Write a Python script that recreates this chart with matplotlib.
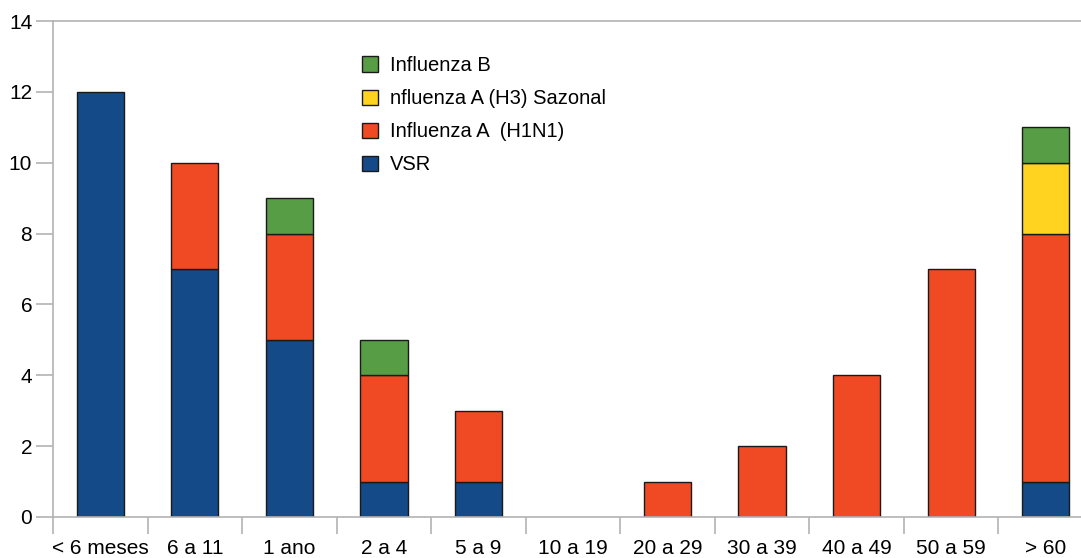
import matplotlib.pyplot as plt
import numpy as np

plt.rcParams['font.family'] = ['Liberation Sans', 'DejaVu Sans']

categories = ['< 6 meses', '6 a 11', '1 ano', '2 a 4', '5 a 9', '10 a 19',
              '20 a 29', '30 a 39', '40 a 49', '50 a 59', '> 60']
vsr = [12, 7, 5, 1, 1, 0, 0, 0, 0, 0, 1]
h1n1 = [0, 3, 3, 3, 2, 0, 1, 2, 4, 7, 7]
h3 = [0, 0, 0, 0, 0, 0, 0, 0, 0, 0, 2]
flu_b = [0, 0, 1, 1, 0, 0, 0, 0, 0, 0, 1]

series = [
    ('VSR', vsr, '#134a87'),
    ('Influenza A  (H1N1)', h1n1, '#ef4a23'),
    ('nfluenza A (H3) Sazonal', h3, '#ffd320'),
    ('Influenza B', flu_b, '#579d45'),
]

W, H = 1081, 558
fig = plt.figure(figsize=(W / 100, H / 100), dpi=100)
ax = fig.add_axes([53 / W, 1 - 517 / H, (1093 - 53) / W, (517 - 21) / H])

x = np.arange(len(categories))
bottom = np.zeros(len(categories))
handles = []
for name, vals, col in series:
    vals = np.array(vals, dtype=float)
    m = vals > 0  # empty segments are not drawn
    b = ax.bar(x[m], vals[m], width=0.5, bottom=bottom[m], color=col,
               edgecolor='#1a1a1a', linewidth=1.0, label=name)
    handles.append(b)
    bottom += vals

ax.set_xlim(-0.5, len(categories) - 0.5)
ax.set_ylim(0, 14)
ax.set_yticks(range(0, 15, 2))
ax.set_xticks(x)
ax.set_xticklabels(categories)
ax.set_xticks(np.arange(-0.5, len(categories), 1), minor=True)
ax.tick_params(axis='x', which='major', length=0, pad=16, labelsize=15)
ax.tick_params(axis='x', which='minor', length=12, color='#b3b3b3', width=1.2)
ax.tick_params(axis='y', length=12, color='#b3b3b3', width=1.2, pad=3, labelsize=15)

for side in ['left', 'bottom', 'top']:
    ax.spines[side].set_color('#b3b3b3')
    ax.spines[side].set_linewidth(1.2)
ax.spines['right'].set_visible(False)

fig.legend(handles[::-1], [s[0] for s in series][::-1],
           loc='upper left', bbox_to_anchor=(344 / W, 1 - 38 / H),
           frameon=False, fontsize=14.5, handlelength=0.8, handleheight=0.8,
           handletextpad=0.6, labelspacing=0.7)

fig.savefig('out.png', dpi=100)
